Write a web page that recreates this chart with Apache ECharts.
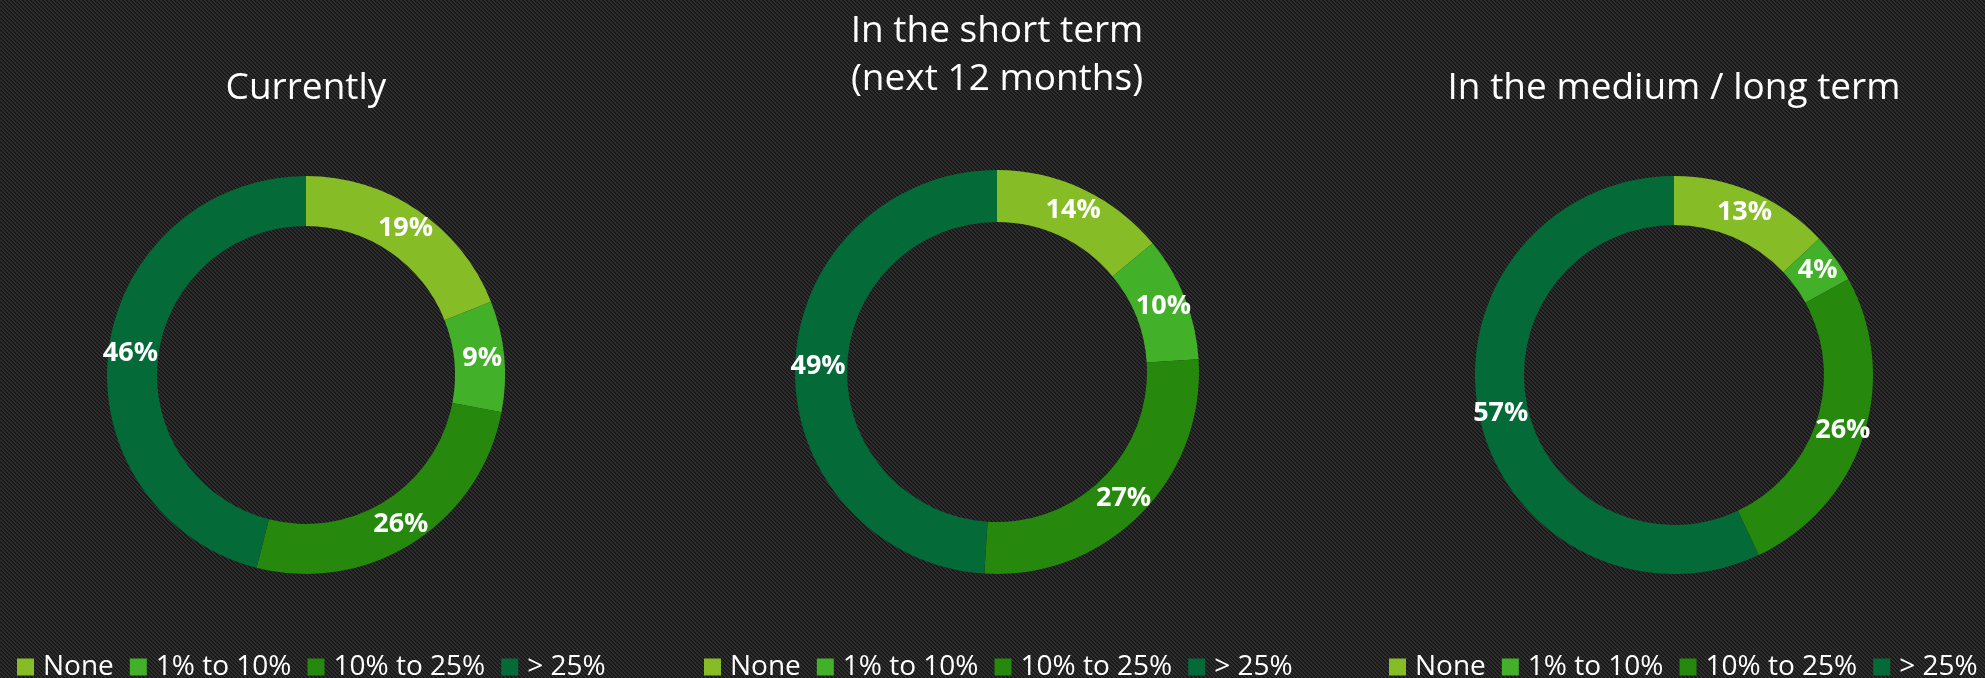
<!DOCTYPE html>
<html>
<head>
<meta charset="utf-8">
<script src="https://cdn.jsdelivr.net/npm/echarts@6/dist/echarts.min.js"></script>
<style>
  html, body { margin: 0; padding: 0; width: 1985px; height: 678px; overflow: hidden; background: #202020; }
  #chart { width: 1985px; height: 678px; }
</style>
</head>
<body>
<div id="chart"></div>
<script>
const categories = ['None', '1% to 10%', '10% to 25%', '> 25%'];
const currently = [19, 9, 26, 46];
const shortTerm = [14, 10, 27, 49];
const mediumLongTerm = [13, 4, 26, 57];
const chartTitles = ['Currently', 'In the short term\n(next 12 months)', 'In the medium / long term'];
const colors = ['#86BC25', '#43B02A', '#26890D', '#046A38'];

const seriesValues = [currently, shortTerm, mediumLongTerm];
const centers = [[306, 375], [997, 372], [1674, 375]];
const radii = [[149, 199], [150, 202], [150, 199]];
const titleTops = [64, 7, 64];
const legendLefts = [17, 704, 1389];

const font = 'Open Sans';

// carbon-fibre style background tile (pixel exact, diagonal "\" stripes)
const tile = document.createElement('canvas');
tile.width = 4; tile.height = 4;
const tctx = tile.getContext('2d');
for (let y = 0; y < 4; y++) {
  for (let x = 0; x < 4; x++) {
    const k = ((x - y) % 4 + 4) % 4;
    tctx.fillStyle = k === 0 ? '#343434' : (k === 1 ? '#2a2a2a' : (k === 2 ? '#1b1b1b' : '#151515'));
    tctx.fillRect(x, y, 1, 1);
  }
}

const option = {
  backgroundColor: { image: tile, repeat: 'repeat' },
  color: colors,
  animation: false,
  title: chartTitles.map((t, i) => ({
    text: t,
    left: centers[i][0],
    top: titleTops[i],
    textAlign: 'center',
    padding: 0,
    textStyle: { color: '#ffffff', fontFamily: font, fontSize: 37, fontWeight: 'normal', lineHeight: 48 }
  })),
  legend: legendLefts.map(l => ({
    data: categories,
    left: l,
    top: 653,
    padding: 0,
    orient: 'horizontal',
    icon: 'rect',
    itemWidth: 17,
    itemHeight: 17,
    itemGap: 16,
    selectedMode: false,
    textStyle: { color: '#ffffff', fontFamily: font, fontSize: 28, lineHeight: 17, padding: [0, 0, 0, 4] }
  })),
  series: seriesValues.map((vals, i) => ({
    type: 'pie',
    center: centers[i],
    radius: radii[i],
    startAngle: 90,
    clockwise: true,
    avoidLabelOverlap: false,
    label: {
      show: true,
      position: 'inside',
      formatter: '{c}%',
      color: '#ffffff',
      fontFamily: font,
      fontWeight: 'bold',
      fontSize: 27
    },
    labelLine: { show: false },
    itemStyle: { borderWidth: 0 },
    emphasis: { disabled: true },
    data: categories.map((c, j) => ({ name: c, value: vals[j] }))
  }))
};

const chart = echarts.init(document.getElementById('chart'), null, { renderer: 'canvas' });
chart.setOption(option);
</script>
</body>
</html>
